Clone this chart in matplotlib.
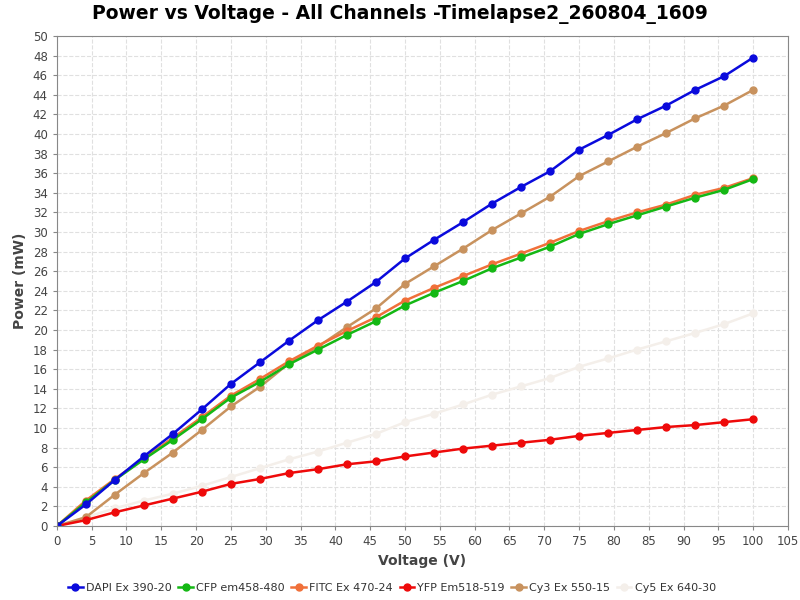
import matplotlib
matplotlib.use("Agg")
import matplotlib.pyplot as plt

# voltage steps (100/24 apart)
voltage = [0, 4.17, 8.33, 12.5, 16.67, 20.83, 25, 29.17, 33.33, 37.5, 41.67, 45.83, 50,
           54.17, 58.33, 62.5, 66.67, 70.83, 75, 79.17, 83.33, 87.5, 91.67, 95.83, 100]

dapi = [0, 2.2, 4.7, 7.1, 9.4, 11.9, 14.5, 16.7, 18.9, 21.0, 22.9, 24.9, 27.3,
        29.2, 31.0, 32.9, 34.6, 36.2, 38.4, 39.9, 41.5, 42.9, 44.5, 45.9, 47.8]
cfp = [0, 2.4, 4.7, 6.8, 8.8, 10.9, 13.1, 14.7, 16.5, 18.0, 19.5, 20.9, 22.5,
       23.8, 25.0, 26.3, 27.4, 28.5, 29.8, 30.8, 31.7, 32.6, 33.5, 34.3, 35.4]
fitc = [0, 2.6, 4.8, 6.9, 9.0, 11.1, 13.3, 15.0, 16.8, 18.4, 19.9, 21.3, 23.0,
        24.3, 25.5, 26.7, 27.8, 28.9, 30.1, 31.1, 32.0, 32.8, 33.8, 34.5, 35.5]
yfp = [0, 0.6, 1.4, 2.1, 2.8, 3.5, 4.3, 4.8, 5.4, 5.8, 6.3, 6.6, 7.1,
       7.5, 7.9, 8.2, 8.5, 8.8, 9.2, 9.5, 9.8, 10.1, 10.3, 10.6, 10.9]
cy3 = [0, 0.9, 3.2, 5.4, 7.5, 9.8, 12.2, 14.2, 16.6, 18.3, 20.3, 22.2, 24.7,
       26.5, 28.3, 30.2, 31.9, 33.6, 35.7, 37.2, 38.7, 40.1, 41.6, 42.9, 44.5]
cy5 = [0, 0.9, 1.8, 2.6, 3.3, 4.1, 5.0, 5.9, 6.8, 7.6, 8.5, 9.4, 10.6,
       11.45, 12.4, 13.4, 14.25, 15.1, 16.25, 17.1, 18.0, 18.85, 19.7, 20.6, 21.7]

names = ["DAPI Ex 390-20", "CFP em458-480", "FITC Ex 470-24",
         "YFP Em518-519", "Cy3 Ex 550-15", "Cy5 Ex 640-30"]
colors = ['#0a0adc', '#14b814', '#f0703a', '#ee0a0a', '#c8925e', '#f4efea']

fig = plt.figure(figsize=(8, 6), dpi=100)
ax = fig.add_axes([0.071, 0.1233, 0.914, 0.8167])

series = [dapi, cfp, fitc, yfp, cy3, cy5]
# draw in reverse so DAPI ends up on top
for vals, name, c in reversed(list(zip(series, names, colors))):
    ax.plot(voltage, vals, color=c, lw=1.8, marker='o', ms=5, label=name)

ax.set_xlim(0, 105)
ax.set_ylim(0, 50)
ax.set_xticks(range(0, 106, 5))
ax.set_yticks(range(0, 51, 2))
ax.grid(True, color='#e0e0e0', ls='--', lw=0.8)
ax.set_axisbelow(True)
for s in ax.spines.values():
    s.set_color('#888888')
ax.tick_params(colors='#888888', labelcolor='#444444', labelsize=8.5, length=3)

ax.set_xlabel('Voltage (V)', fontsize=10, fontweight='bold', color='#444444')
ax.set_ylabel('Power (mW)', fontsize=10, fontweight='bold', color='#444444')
fig.suptitle('Power vs Voltage - All Channels -Timelapse2_260804_1609',
             fontsize=13.5, fontweight='bold', y=0.993)

h, l = ax.get_legend_handles_labels()
fig.legend(h[::-1], l[::-1], loc='center', bbox_to_anchor=(0.49, 0.02), ncol=6,
           frameon=False, fontsize=8, handlelength=1.3, handletextpad=0.3,
           columnspacing=0.6, labelcolor='#333333')

fig.savefig('out.png', dpi=100)
